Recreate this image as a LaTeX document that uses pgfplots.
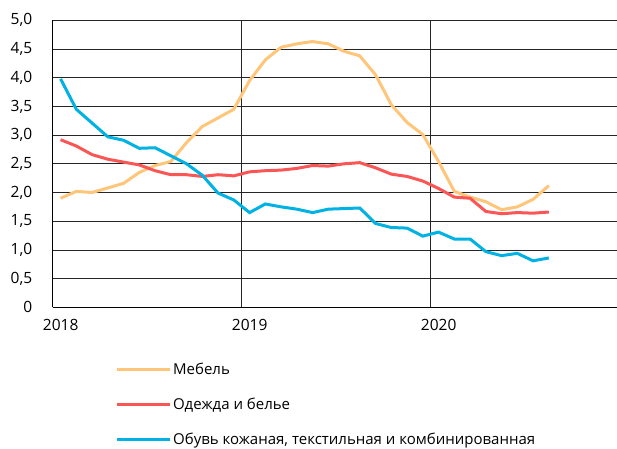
\documentclass[border=0pt]{standalone}
\usepackage{fontspec}
\setmainfont{Open Sans}
\usepackage{pgfplots}
\pgfplotsset{compat=1.18}
\definecolor{corange}{RGB}{255,198,122}
\definecolor{cred}{RGB}{250,86,86}
\definecolor{cblue}{RGB}{0,178,228}
\begin{document}
\begin{tikzpicture}
\begin{axis}[
  scale only axis,
  width=564.3pt, height=287pt,
  xmin=0, xmax=35.83, ymin=0, ymax=5,
  axis x line=bottom, axis y line=left,
  axis line style={-, black, line width=0.8pt},
  xtick={0,12,24}, xticklabels={2018,2019,2020},
  ytick={0,0.5,1,1.5,2,2.5,3,3.5,4,4.5,5},
  yticklabels={0,{0,5},{1,0},{1,5},{2,0},{2,5},{3,0},{3,5},{4,0},{4,5},{5,0}},
  major tick length=0pt,
  xmajorgrids, ymajorgrids,
  grid style={black!85, line width=0.8pt},
  ticklabel style={font=\fontsize{15.5}{18}\selectfont},
  xticklabel style={xshift=8pt, yshift=-8pt},
  yticklabel style={xshift=-17pt},
  legend style={draw=none, fill=none, at={(0.105,-0.181)}, anchor=north west,
    font=\fontsize{15}{18}\selectfont, row sep=18pt, cells={anchor=west}},
  legend cell align=left,
  legend image code/.code={\draw[#1] (0pt,0pt) -- (53pt,0pt);},
]
\addplot[corange, line width=3pt] coordinates {
(0.5,1.90)(1.5,2.02)(2.5,2.00)(3.5,2.08)(4.5,2.16)(5.5,2.35)(6.5,2.47)(7.5,2.54)
(8.5,2.87)(9.5,3.15)(10.5,3.30)(11.5,3.45)(12.5,3.95)(13.5,4.31)(14.5,4.53)(15.5,4.59)
(16.5,4.63)(17.5,4.59)(18.5,4.46)(19.5,4.38)(20.5,4.05)(21.5,3.53)(22.5,3.22)(23.5,3.01)
(24.5,2.54)(25.5,2.02)(26.5,1.92)(27.5,1.84)(28.5,1.70)(29.5,1.75)(30.5,1.88)(31.5,2.12)};
\addlegendentry{Мебель}
\addplot[cred, line width=3pt] coordinates {
(0.5,2.92)(1.5,2.81)(2.5,2.66)(3.5,2.58)(4.5,2.53)(5.5,2.48)(6.5,2.38)(7.5,2.31)
(8.5,2.31)(9.5,2.28)(10.5,2.31)(11.5,2.29)(12.5,2.36)(13.5,2.38)(14.5,2.39)(15.5,2.42)
(16.5,2.47)(17.5,2.46)(18.5,2.50)(19.5,2.52)(20.5,2.43)(21.5,2.32)(22.5,2.28)(23.5,2.20)
(24.5,2.07)(25.5,1.92)(26.5,1.90)(27.5,1.67)(28.5,1.63)(29.5,1.65)(30.5,1.64)(31.5,1.66)};
\addlegendentry{Одежда и белье}
\addplot[cblue, line width=3pt] coordinates {
(0.5,3.98)(1.5,3.45)(2.5,3.21)(3.5,2.97)(4.5,2.91)(5.5,2.77)(6.5,2.78)(7.5,2.64)
(8.5,2.50)(9.5,2.30)(10.5,1.99)(11.5,1.87)(12.5,1.65)(13.5,1.80)(14.5,1.75)(15.5,1.71)
(16.5,1.65)(17.5,1.71)(18.5,1.72)(19.5,1.73)(20.5,1.46)(21.5,1.39)(22.5,1.38)(23.5,1.24)
(24.5,1.31)(25.5,1.19)(26.5,1.19)(27.5,0.97)(28.5,0.90)(29.5,0.94)(30.5,0.81)(31.5,0.86)};
\addlegendentry{Обувь кожаная, текстильная и комбинированная}
\end{axis}
\pgfresetboundingbox
\useasboundingbox (-52.7pt,-140.7pt) rectangle (564.3pt,307.3pt);
\end{tikzpicture}
\end{document}
